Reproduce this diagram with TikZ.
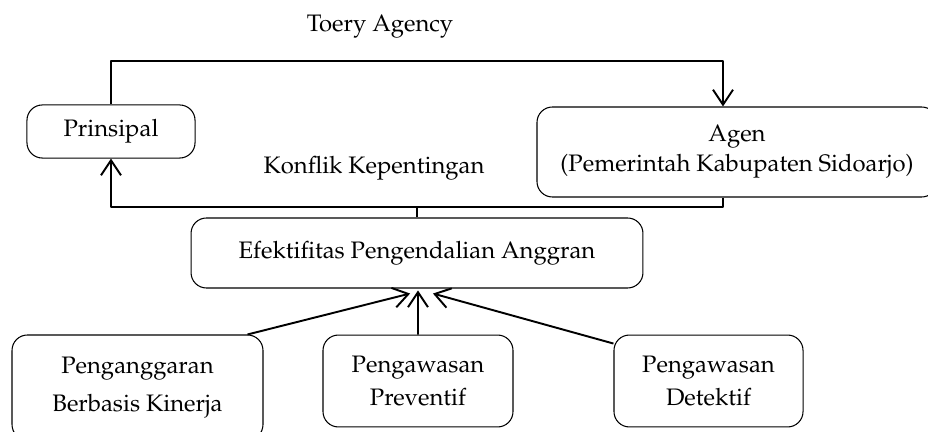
\documentclass[tikz,border=0pt]{standalone}
\usepackage[T1]{fontenc}
\usepackage{mathpazo}
\usepackage{tikz}
\usetikzlibrary{arrows.meta,positioning}
\tikzset{
  ag diagram/.style={font=\fontsize{12.4}{18}\selectfont, line join=round},
  ag box/.style={draw=black, line width=0.55pt, rounded corners=8pt,
    align=center, inner sep=0pt},
  ag line/.style={draw=black, line width=1pt},
  ag arrow/.style={ag line, -{Straight Barb[length=7.8pt,width=10.4pt,line width=1pt]}}
}
\begin{document}
\begin{tikzpicture}[ag diagram, x=0.52pt, y=-0.52pt]
\useasboundingbox (0,0) rectangle (928,432);
% boxes
\node[ag box, minimum width=87.4pt, minimum height=27.6pt] (prinsipal) at (111,131.5) {Prinsipal};
\node[ag box, minimum width=208pt, minimum height=46.8pt, font=\fontsize{12.4}{15.6}\selectfont] (agen) at (737,152)
  {Agen\\(Pemerintah Kabupaten Sidoarjo)};
\node[ag box, minimum width=235pt, minimum height=36.4pt] (efek) at (417,253) {Efektifitas Pengendalian Anggran};
\node[ag box, minimum width=130.5pt, minimum height=54.6pt, font=\fontsize{12.4}{19.5}\selectfont] (kinerja) at (137.5,387.5)
  {Penganggaran\\Berbasis Kinerja};
\node[ag box, minimum width=98.8pt, minimum height=47.8pt, font=\fontsize{12.4}{17.5}\selectfont] (preventif) at (418,381)
  {Pengawasan\\Preventif};
\node[ag box, minimum width=98.3pt, minimum height=47.8pt, font=\fontsize{12.4}{17.5}\selectfont] (detektif) at (708.5,381)
  {Pengawasan\\Detektif};
% labels
\node[anchor=base] (teori) at (380,32) {Toery Agency};
\node[anchor=base] (konflik) at (374,174) {Konflik Kepentingan};
% bus lines
\coordinate (topR) at (723,61);
\coordinate (busR) at (723,207);
\draw[ag arrow] (prinsipal.north) |- (topR) -- (agen.north -| topR);
\draw[ag arrow] (agen.south -| busR) -- (busR) -| (prinsipal.south);
\draw[ag line] (efek.north) -- (efek.north |- busR);
% controls into budget effectiveness
\draw[ag arrow] ([xshift=-8.3pt]kinerja.north east) -- ([xshift=-3.6pt,yshift=-2.6pt]efek.south);
\draw[ag arrow] (preventif.north) -- ([xshift=0.5pt,yshift=-1pt]efek.south);
\draw[ag arrow] ([yshift=-4.7pt]detektif.north west) -- ([xshift=8.3pt,yshift=-2.6pt]efek.south);
\end{tikzpicture}
\end{document}
